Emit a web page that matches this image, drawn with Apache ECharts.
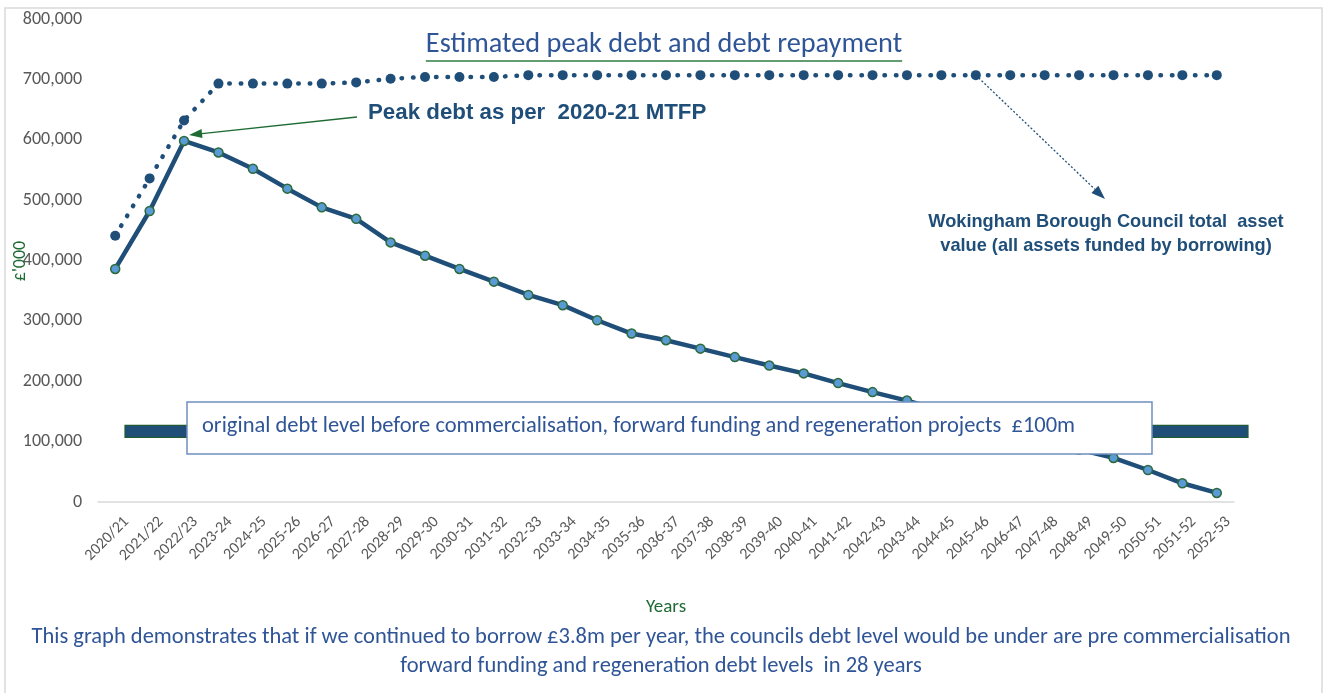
<!DOCTYPE html>
<html>
<head>
<meta charset="utf-8">
<script src="https://cdn.jsdelivr.net/npm/echarts@6/dist/echarts.min.js"></script>
<style>
html, body { margin: 0; padding: 0; background: #fff; }
#chart { width: 1327px; height: 693px; }
</style>
</head>
<body>
<div id="chart"></div>
<script>
const years = [
  '2020/21', '2021/22', '2022/23', '2023-24', '2024-25', '2025-26', '2026-27', '2027-28',
  '2028-29', '2029-30', '2030-31', '2031-32', '2032-33', '2033-34', '2034-35', '2035-36',
  '2036-37', '2037-38', '2038-39', '2039-40', '2040-41', '2041-42', '2042-43', '2043-44',
  '2044-45', '2045-46', '2046-47', '2047-48', '2048-49', '2049-50', '2050-51', '2051-52', '2052-53'
];

// estimated debt (£'000)
const debt = [
  386000, 482000, 598000, 579000, 552000, 519000, 488000, 469000,
  430000, 408000, 386000, 365000, 343000, 326000, 301000, 279000,
  268000, 254000, 240000, 226000, 213000, 197000, 182000, 168000,
  152000, 135000, 118000, 102000, 87000, 73000, 53000, 31000, 15000
];

// total asset value (£'000)
const assetValue = [
  441000, 536000, 632000, 693000, 693000, 693000, 693000, 695000,
  701000, 704000, 704000, 704000, 707000, 707000, 707000, 707000,
  707000, 707000, 707000, 707000, 707000, 707000, 707000, 707000,
  707000, 707000, 707000, 707000, 707000, 707000, 707000, 707000, 707000
];

const originalDebtLevel = 117000;
const yMin = 0;
const yMax = 800000;
const yStep = 100000;

const titleText = 'Estimated peak debt and debt repayment';
const yName = "£'000";
const peakNote = 'Peak debt as per  2020-21 MTFP';
const assetNote = 'Wokingham Borough Council total  asset\nvalue (all assets funded by borrowing)';
const boxNote = 'original debt level before commercialisation, forward funding and regeneration projects  £100m';
const footNote = 'This graph demonstrates that if we continued to borrow £3.8m per year, the councils debt level would be under are pre commercialisation\nforward funding and regeneration debt levels  in 28 years';

const sansFont = 'Carlito, Lato, sans-serif';
const boldFont = '"Liberation Sans", Arial, sans-serif';
const navy = '#1f4e79';
const textBlue = '#2f5597';
const darkGreen = '#1e6b33';

const myChart = echarts.init(document.getElementById('chart'));

const option = {
  animation: false,
  grid: { left: 98, right: 93, top: 19, bottom: 191, containLabel: false, outerBoundsMode: 'none' },
  xAxis: {
    type: 'category',
    data: years,
    boundaryGap: true,
    name: 'Years',
    nameLocation: 'middle',
    nameGap: 96,
    nameTextStyle: { color: darkGreen, fontFamily: sansFont, fontSize: 19 },
    axisLine: { lineStyle: { color: '#d9d9d9', width: 1.5 } },
    axisTick: { show: false },
    axisLabel: {
      rotate: 45,
      interval: 0,
      margin: 6,
      verticalAlign: 'top',
      lineHeight: 32,
      color: '#595959',
      fontFamily: sansFont,
      fontSize: 16
    }
  },
  yAxis: {
    type: 'value',
    min: yMin,
    max: yMax,
    interval: yStep,
    axisLine: { show: false },
    axisTick: { show: false },
    splitLine: { show: false },
    axisLabel: {
      margin: 16,
      color: '#595959',
      fontFamily: sansFont,
      fontSize: 18,
      formatter: v => v.toLocaleString('en-GB')
    }
  },
  series: [
    {
      name: 'Debt',
      type: 'line',
      data: debt,
      z: 3,
      symbol: 'circle',
      symbolSize: 9,
      lineStyle: { color: navy, width: 4.5 },
      itemStyle: { color: '#5b9bd5', borderColor: '#2d6a3e', borderWidth: 1.5 }
    },
    {
      name: 'Asset value',
      type: 'line',
      data: assetValue,
      z: 2,
      symbol: 'circle',
      symbolSize: 10,
      lineStyle: { color: navy, width: 4.5, type: [0.5, 11], cap: 'round' },
      itemStyle: { color: navy }
    }
  ]
};

myChart.setOption(option);

const measure = (text, font) => {
  const ctx = document.createElement('canvas').getContext('2d');
  ctx.font = font;
  return ctx.measureText(text).width;
};

const arrow = (x1, y1, x2, y2, color, width, dashed, headLen, headW) => {
  const ang = Math.atan2(y2 - y1, x2 - x1);
  const bx = x2 - headLen * Math.cos(ang);
  const by = y2 - headLen * Math.sin(ang);
  const px = -Math.sin(ang) * headW / 2;
  const py = Math.cos(ang) * headW / 2;
  return [
    {
      type: 'line', z: 20,
      shape: { x1: x1, y1: y1, x2: bx, y2: by },
      style: { stroke: color, lineWidth: width, lineDash: dashed ? [2, 2] : null }
    },
    {
      type: 'polygon', z: 20,
      shape: { points: [[x2, y2], [bx + px, by + py], [bx - px, by - py]] },
      style: { fill: color }
    }
  ];
};

const peakPx = myChart.convertToPixel({ seriesIndex: 0 }, [2, debt[2]]);
const assetPx = myChart.convertToPixel({ seriesIndex: 1 }, [25, assetValue[25]]);
const barY = myChart.convertToPixel({ yAxisIndex: 0 }, originalDebtLevel);

const titleFont = '28.3px ' + sansFont;
const titleW = measure(titleText, titleFont);
const titleX = 664;

const graphics = [
  {
    type: 'rect', z: 0, silent: true,
    shape: { x: 5, y: 8, width: 1317, height: 700 },
    style: { fill: 'none', stroke: '#d9d9d9', lineWidth: 1.5 }
  },
  {
    type: 'text', z: 20,
    style: {
      x: titleX, y: 45, text: titleText, font: titleFont,
      fill: textBlue, align: 'center', verticalAlign: 'middle'
    }
  },
  {
    type: 'line', z: 20,
    shape: { x1: titleX - titleW / 2, y1: 61, x2: titleX + titleW / 2, y2: 61 },
    style: { stroke: '#2e7d45', lineWidth: 1.5 }
  },
  {
    type: 'text', z: 20,
    x: 20, y: 261, rotation: Math.PI / 2,
    style: {
      x: 0, y: 0, text: yName, font: '18px ' + sansFont,
      fill: darkGreen, align: 'center', verticalAlign: 'middle'
    }
  },
  {
    type: 'text', z: 20,
    style: {
      x: 368, y: 113, text: peakNote, font: 'bold 22.3px ' + boldFont,
      fill: navy, align: 'left', verticalAlign: 'middle'
    }
  },
  {
    type: 'text', z: 20,
    style: {
      x: 1106, y: 234, text: assetNote, font: 'bold 18.2px ' + boldFont,
      fill: navy, align: 'center', verticalAlign: 'middle', lineHeight: 24
    }
  },
  {
    type: 'rect', z: 15,
    shape: { x: 125, y: barY - 6, width: 1123, height: 12 },
    style: { fill: navy, stroke: '#1e5a32', lineWidth: 1.2 }
  },
  {
    type: 'rect', z: 16,
    shape: { x: 187, y: 402, width: 965, height: 52 },
    style: { fill: '#fff', stroke: '#6f8fbf', lineWidth: 1.5 }
  },
  {
    type: 'text', z: 17,
    style: {
      x: 202, y: 426, text: boxNote, font: '22.5px ' + sansFont,
      fill: textBlue, align: 'left', verticalAlign: 'middle'
    }
  },
  {
    type: 'text', z: 20,
    style: {
      x: 661, y: 652, text: footNote, font: '22.5px ' + sansFont,
      fill: textBlue, align: 'center', verticalAlign: 'middle', lineHeight: 29
    }
  }
]
  .concat(arrow(357, 117, peakPx[0] + 5, peakPx[1] - 6, darkGreen, 1.3, false, 13, 9))
  .concat(arrow(assetPx[0], assetPx[1], 1105, 199, navy, 1.3, true, 14, 10));

myChart.setOption({ graphic: { elements: graphics } });
</script>
</body>
</html>
